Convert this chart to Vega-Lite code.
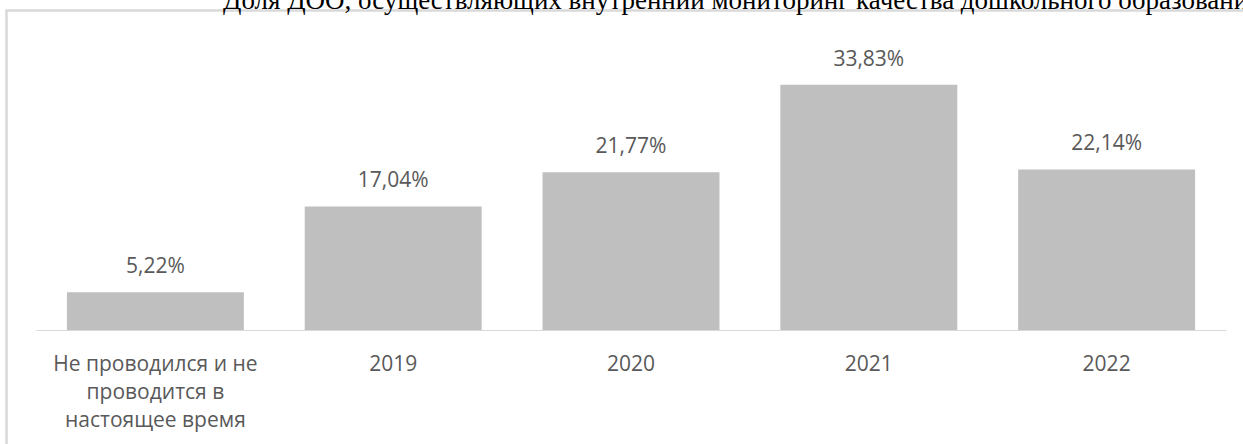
{
  "$schema": "https://vega.github.io/schema/vega-lite/v6.json",
  "width": 1239.5,
  "height": 436.5,
  "autosize": {"type": "none"},
  "padding": {"left": 6.5, "top": 10.5, "right": -3, "bottom": -3},
  "background": "white",
  "title": {
    "text": "Доля ДОО, осуществляющих внутренний мониторинг качества дошкольного образования",
    "anchor": "start",
    "frame": "group",
    "dx": 216.5,
    "offset": -4,
    "font": "Liberation Serif",
    "fontSize": 27,
    "fontWeight": "normal",
    "color": "#000000"
  },
  "data": {
    "values": [
      {"category": "Не проводился и не проводится в настоящее время", "value": 0.0522},
      {"category": "2019", "value": 0.1704},
      {"category": "2020", "value": 0.2177},
      {"category": "2021", "value": 0.3383},
      {"category": "2022", "value": 0.2214}
    ]
  },
  "encoding": {
    "x": {
      "field": "category",
      "type": "nominal",
      "sort": null,
      "scale": {"paddingInner": 0.256, "paddingOuter": 0.13, "range": [29.5, 1219.5]},
      "axis": {
        "title": null,
        "labelAngle": 0,
        "ticks": false,
        "offset": -117,
        "domainColor": "#d9d9d9",
        "domainWidth": 1,
        "labelFont": "Open Sans",
        "labelFontSize": 21,
        "labelColor": "#595959",
        "labelPadding": 23,
        "labelLineHeight": 28,
        "labelLimit": 0,
        "labelExpr": "datum.label == 'Не проводился и не проводится в настоящее время' ? ['Не проводился и не', 'проводится в', 'настоящее время'] : datum.label"
      }
    },
    "y": {
      "field": "value",
      "type": "quantitative",
      "scale": {"domain": [0, 0.4], "range": [319.5, 29.5]},
      "axis": null
    }
  },
  "layer": [
    {"mark": {"type": "bar", "color": "#bfbfbf"}},
    {
      "mark": {"type": "text", "baseline": "alphabetic", "dy": -19, "font": "Open Sans", "fontSize": 21, "color": "#595959"},
      "encoding": {"text": {"field": "value", "type": "quantitative", "format": ".2%"}}
    }
  ],
  "config": {
    "view": {"stroke": "#d9d9d9", "strokeWidth": 2.5},
    "locale": {
      "number": {"decimal": ",", "thousands": " ", "grouping": [3], "currency": ["", " ₽"]}
    }
  }
}
